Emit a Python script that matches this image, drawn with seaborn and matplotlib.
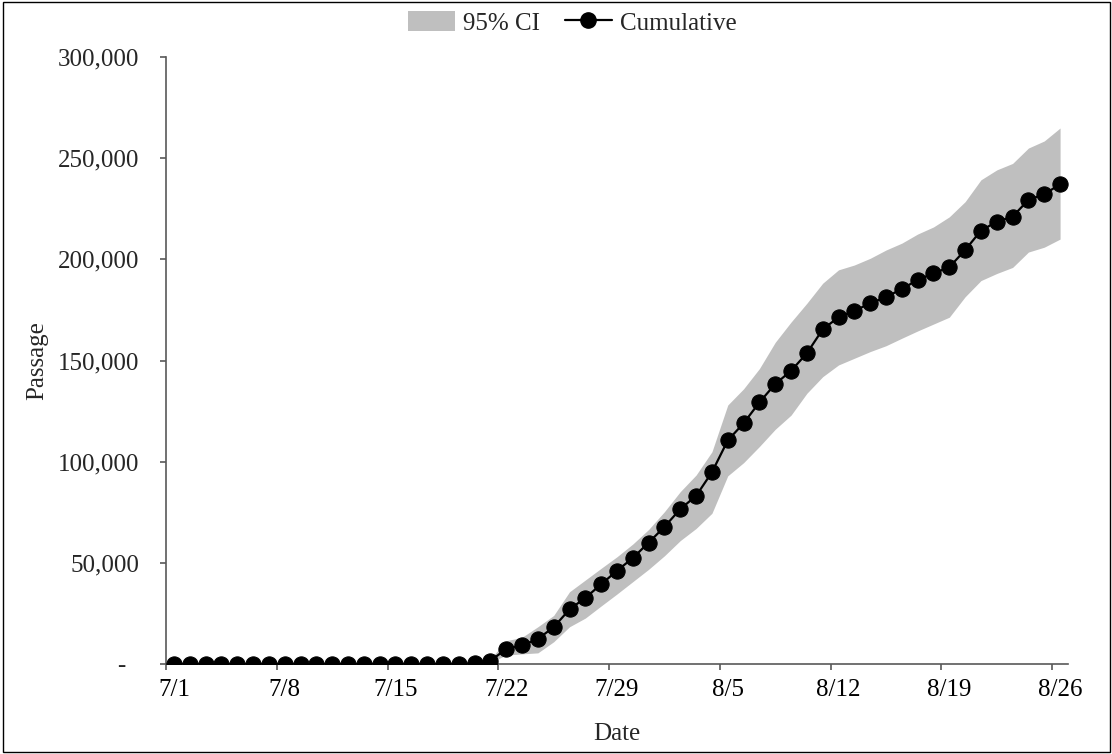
import numpy as np
import pandas as pd
import matplotlib
matplotlib.use("Agg")
import matplotlib.pyplot as plt
from matplotlib.patches import Patch, Rectangle
from matplotlib.lines import Line2D
from matplotlib.ticker import FuncFormatter, FixedLocator
import seaborn as sns

# Daily dates, 7/1 through 8/26
dates = pd.date_range("2023-07-01", "2023-08-26", freq="D")
date_labels = [f"{d.month}/{d.day}" for d in dates]

# Cumulative passage estimate
cumulative = [
    0, 0, 0, 0, 0, 0, 0, 0, 0, 0,
    0, 0, 0, 0, 0, 0, 0, 0, 0, 300,
    1500, 7500, 9200, 12400, 18200, 27000, 32700, 39400, 46100, 52400,
    60000, 67800, 76600, 83100, 94800, 110500, 119000, 129300, 138400, 144900,
    153600, 165400, 171400, 174500, 178300, 181300, 185400, 189800, 193100, 196100,
    204600, 214200, 218600, 221100, 229400, 232200, 237100,
]

# 95% confidence bounds (from 7/21 onward)
ci_start = 20
ci_upper = [
    2500, 11500, 13200, 18400, 24000, 35700, 41500, 47300, 53000, 59300,
    66500, 75300, 85200, 93400, 104900, 128000, 136000, 146000, 159000, 169000,
    178300, 188200, 194800, 197200, 200500, 204600, 208000, 212500, 216000, 221000,
    228500, 239300, 244200, 247400, 255000, 258500, 264900,
]
ci_lower = [
    800, 4400, 5000, 5500, 11000, 18400, 22700, 28700, 34600, 40700,
    46800, 53500, 61000, 67000, 74500, 93000, 99500, 107500, 116000, 123000,
    133800, 142000, 147800, 151100, 154400, 157300, 161000, 164600, 168000, 171400,
    181500, 189500, 193000, 196000, 203600, 206000, 210000,
]

df = pd.DataFrame({"day": np.arange(len(dates)), "Cumulative": cumulative})
ci_x = df["day"].to_numpy()[ci_start:]

sns.set_theme(style="white")
plt.rcParams["font.family"] = ["Liberation Serif", "DejaVu Serif"]
FS = 18

fig = plt.figure(figsize=(11.12, 7.54), dpi=100)
ax = fig.add_axes([166 / 1112, 1 - 664 / 754, (1068 - 166) / 1112, (664 - 57) / 754])

ax.fill_between(ci_x, ci_lower, ci_upper, color="#bfbfbf", linewidth=0, zorder=1)
sns.lineplot(data=df, x="day", y="Cumulative", ax=ax, color="black", linewidth=1.6,
             marker="o", markersize=11, markeredgecolor="black", zorder=3, legend=False)

ax.set_xlim(-0.5, len(dates) - 0.5)
ax.set_ylim(0, 300000)

# Labels sit at category centres, tick marks at category boundaries
label_pos = np.arange(0, len(dates), 7)
ax.xaxis.set_major_locator(FixedLocator(label_pos))
ax.set_xticklabels([date_labels[i] for i in label_pos])
ax.xaxis.set_minor_locator(FixedLocator(label_pos - 0.5))
ax.tick_params(axis="x", which="major", length=0, pad=11, labelsize=FS, colors="black")
ax.tick_params(axis="x", which="minor", length=4.5, width=1.2, color="#595959", bottom=True)

ax.set_yticks(np.arange(0, 300001, 50000))
ax.yaxis.set_major_formatter(FuncFormatter(lambda v, p: "-  " if v == 0 else f"{v:,.0f}"))
ax.tick_params(axis="y", which="major", length=4.5, width=1.2, color="#595959", left=True,
               labelsize=FS, pad=15)

for side in ["top", "right"]:
    ax.spines[side].set_visible(False)
for side in ["left", "bottom"]:
    ax.spines[side].set_color("#595959")
    ax.spines[side].set_linewidth(1.2)

ax.set_xlabel("Date", fontsize=FS, labelpad=16)
ax.set_ylabel("Passage", fontsize=FS, labelpad=7)

handles = [
    Patch(facecolor="#bfbfbf", edgecolor="none", label="95% CI"),
    Line2D([0], [0], color="black", linewidth=1.6, marker="o", markersize=11, label="Cumulative"),
]
fig.legend(handles=handles, loc="upper center", bbox_to_anchor=(572 / 1112, 1 + 12 / 754), ncol=2,
           frameon=False, fontsize=FS, handlelength=1.9, handleheight=0.9, handletextpad=0.3,
           columnspacing=1.0)

# Outer frame around the whole chart
fig.add_artist(Rectangle((3 / 1112, 2 / 754), 1107 / 1112, 750 / 754, transform=fig.transFigure,
                         fill=False, edgecolor="black", linewidth=1))

fig.savefig("out.png", dpi=100)
